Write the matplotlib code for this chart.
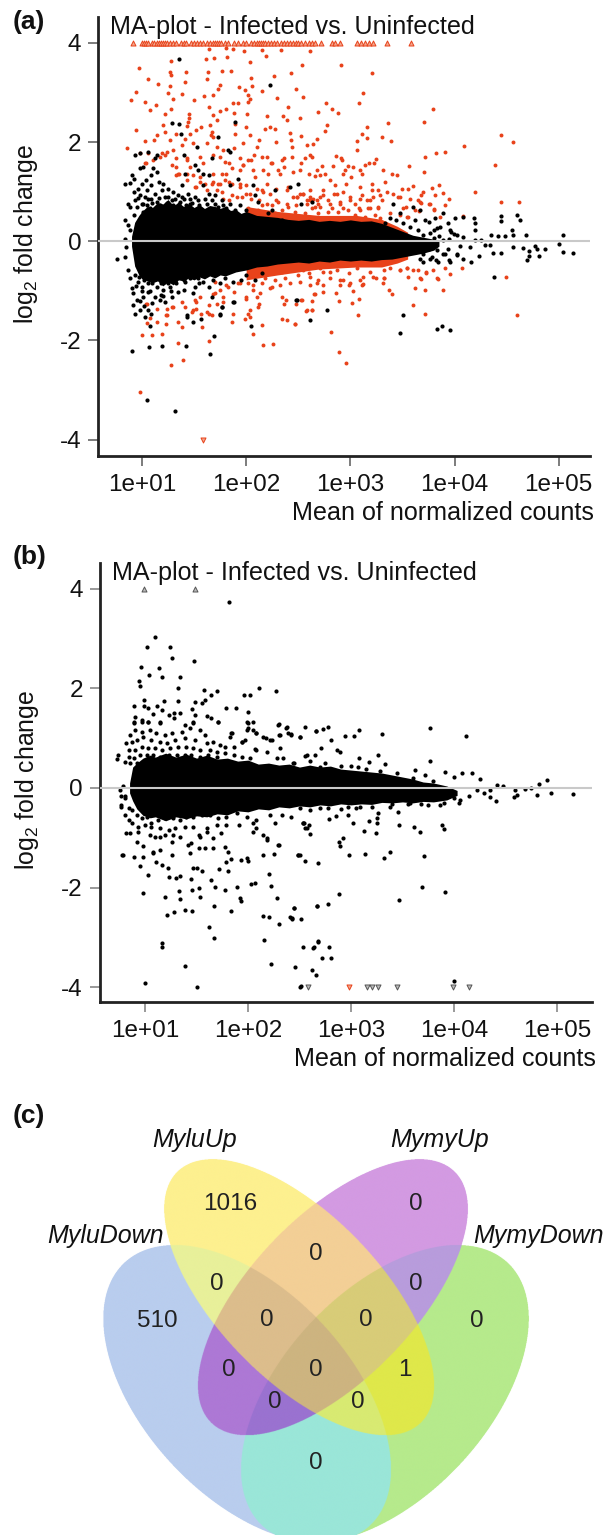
import numpy as np
import matplotlib
matplotlib.use("Agg")
import matplotlib.pyplot as plt

plt.rcParams['font.family'] = ['Liberation Sans', 'DejaVu Sans']
plt.rcParams['mathtext.default'] = 'regular'
plt.rcParams['axes.unicode_minus'] = False

W, H = 606, 1535

x_ticks = [1e1, 1e2, 1e3, 1e4, 1e5]
x_tick_labels = ['1e+01', '1e+02', '1e+03', '1e+04', '1e+05']
y_ticks = [-4, -2, 0, 2, 4]
title = 'MA-plot - Infected vs. Uninfected'

# panel a: log10(mean), log2FC
a_core_lx = [0.90, 0.93, 0.97, 1.0, 1.05, 1.1, 1.15, 1.2, 1.25, 1.3, 1.35, 1.4, 1.45, 1.5, 1.55, 1.6, 1.65, 1.7, 1.75,
             1.8, 1.85, 1.9, 1.95, 2.0, 2.1, 2.2, 2.3, 2.4, 2.5, 2.6, 2.7, 2.8, 2.9, 3.0, 3.1, 3.2, 3.3, 3.4, 3.5,
             3.6, 3.7, 3.8, 3.85]
a_core_hi = [0.10, 0.38, 0.52, 0.60, 0.70, 0.68, 0.78, 0.75, 0.84, 0.72, 0.78, 0.70, 0.76, 0.68, 0.74, 0.66, 0.72,
             0.70, 0.66, 0.70, 0.62, 0.64, 0.56, 0.60, 0.52, 0.50, 0.48, 0.44, 0.42, 0.44, 0.40, 0.42, 0.40, 0.43,
             0.40, 0.41, 0.36, 0.28, 0.20, 0.12, 0.08, 0.04, 0.0]
a_core_lo = [-0.10, -0.50, -0.68, -0.76, -0.80, -0.84, -0.80, -0.90, -0.82, -0.88, -0.78, -0.80, -0.74, -0.78, -0.72,
             -0.76, -0.70, -0.74, -0.68, -0.70, -0.66, -0.62, -0.60, -0.58, -0.52, -0.50, -0.46, -0.44, -0.42, -0.44,
             -0.40, -0.42, -0.38, -0.40, -0.38, -0.40, -0.37, -0.36, -0.32, -0.28, -0.24, -0.18, -0.10]

a_band_lx = [2.0, 2.3, 2.7, 3.06, 3.3, 3.45, 3.55]
a_band_hi = [0.70, 0.60, 0.52, 0.52, 0.44, 0.30, 0.18]
a_band_lo = [-0.78, -0.68, -0.56, -0.52, -0.52, -0.44, -0.36]

a_top_lx = [0.91, 1.0, 1.02, 1.04, 1.06, 1.1, 1.12, 1.14, 1.16, 1.18, 1.2, 1.22, 1.24, 1.27, 1.3, 1.33, 1.37, 1.4,
            1.42, 1.47, 1.5, 1.53, 1.56, 1.59, 1.62, 1.65, 1.68, 1.7, 1.72, 1.74, 1.76, 1.8, 1.83, 1.88, 1.92, 1.97,
            2.0, 2.05, 2.08, 2.1, 2.12, 2.14, 2.16, 2.18, 2.21, 2.24, 2.27, 2.3, 2.33, 2.36, 2.39, 2.42, 2.45, 2.48,
            2.5, 2.53, 2.56, 2.6, 2.63, 2.66, 2.72, 2.82, 2.85, 2.9, 3.06, 3.1, 3.14, 3.18, 3.22, 3.35, 3.58]
a_bottom_lx = [1.59]

a_red = [
    (1.64,3.88),(1.81,3.90),(1.87,3.87),(1.98,3.84),(2.15,3.85),(2.33,3.85),(2.61,3.84),(1.82,3.72),(1.69,3.70),
    (1.61,3.67),(2.19,3.73),(1.28,3.63),(2.04,3.61),(2.54,3.56),(0.97,3.49),(1.27,3.41),(1.28,3.35),(1.42,3.41),
    (1.63,3.42),(1.77,3.43),(1.85,3.43),(1.62,3.28),(2.05,3.30),(2.27,3.33),(2.43,3.39),(1.06,3.27),(1.41,3.21),
    (1.15,3.17),(1.27,3.13),(1.75,3.15),(1.73,3.06),(1.93,3.10),(2.06,3.13),(1.99,3.04),(2.15,3.03),(2.48,3.06),
    (0.94,3.00),(1.25,2.99),(1.38,2.96),(1.60,2.92),(1.68,2.94),(2.02,2.94),(2.04,2.87),(2.55,2.91),(0.89,2.84),
    (2.30,2.88),(1.03,2.81),(1.30,2.86),(1.50,2.84),(1.13,2.74),(1.87,2.79),(1.92,2.79),(2.02,2.80),(1.08,2.64),
    (1.28,2.67),(1.64,2.71),(1.81,2.67),(2.40,2.71),(1.22,2.57),(1.45,2.57),(1.75,2.62),(2.69,2.61),(1.68,2.54),
    (1.88,2.59),(2.01,2.57),(2.20,2.52),(2.35,2.53),(2.52,2.49),(1.45,2.49),(1.72,2.45),(1.44,2.41),(1.89,2.37),
    (2.39,2.45),(1.20,2.34),(1.65,2.34),(1.43,2.32),(2.00,2.30),(2.18,2.27),(2.23,2.30),(2.28,2.27),(0.94,2.24),
    (1.22,2.20),(1.52,2.25),(1.57,2.30),(1.67,2.20),(2.42,2.19),(1.03,2.02),(1.14,2.14),(1.33,2.17),(1.46,2.17),
    (1.66,2.14),(1.68,2.10),(1.89,2.17),(2.04,2.14),(2.53,2.12),(1.12,2.05),(1.27,2.04),(1.41,2.07),(2.12,2.04),
    (2.29,2.00),(2.43,2.04),(2.68,2.07),(0.86,1.88),(0.98,1.78),(1.06,1.78),(1.19,1.77),(1.24,1.80),(1.30,1.83),
    (1.38,1.94),(1.49,1.97),(1.62,1.97),(1.72,1.90),(1.78,1.83),(1.88,1.87),(1.97,1.97),(2.10,1.90),(2.08,1.73),
    (2.58,1.94),(2.64,1.96),(2.61,1.73),(2.44,1.90),(2.56,1.67),(1.11,1.63),(1.17,1.70),(1.33,1.67),(1.43,1.63),
    (1.56,1.70),(1.68,1.73),(1.75,1.70),(1.94,1.67),(2.02,1.63),(2.20,1.70),(2.36,1.67),(2.44,1.70),(1.04,1.57),
    (1.33,1.50),(1.46,1.50),(1.59,1.57),(1.84,1.57),(1.97,1.53),(2.24,1.57),(2.36,1.50),(2.52,1.43),(2.68,1.43),
    (1.33,1.33),(1.43,1.36),(1.56,1.30),(1.68,1.36),(1.81,1.36),(1.94,1.43),(2.07,1.43),(2.16,1.43),(2.32,1.36),
    (2.45,1.40),(2.60,1.36),(1.68,1.20),(1.75,1.16),(1.84,1.20),(1.94,1.10),(2.00,1.13),(2.10,1.06),(2.16,1.00),
    (2.23,0.96),(2.29,1.06),(2.39,1.03),(2.45,0.89),(2.52,0.96),(2.61,0.89),(2.68,0.83),(1.72,1.03),(1.62,1.03),
    (1.52,1.10),(1.43,1.23),(1.36,1.36),(1.56,1.20),(1.91,0.89),(2.04,0.96),(2.12,0.83),(2.20,0.76),(2.29,0.83),
    (2.39,0.76),(2.48,0.73),(2.58,0.76),(2.66,0.69),(1.78,0.86),(1.84,0.83),
    (1.03,1.57),(1.22,1.73),(1.285,1.53),(1.35,1.36),(1.43,1.67),(1.49,1.33),(1.67,1.16),(1.73,1.16),(1.80,1.23),
    (1.86,1.16),(1.94,1.16),(2.00,0.96),(2.05,0.86),(2.15,1.03),(2.245,0.725),(2.31,0.79),(2.40,0.69),(2.485,0.89),
    (2.565,0.56),(2.63,0.66),(2.21,1.36),(2.31,1.43),(2.40,1.10),(1.97,1.53),(1.86,1.47),(1.80,1.60),(2.05,1.63),
    (2.15,1.70),(2.245,1.57),(2.34,1.63),(2.53,1.57),(2.63,1.70),(1.51,1.10),(1.605,1.16),(1.765,0.99),(1.86,0.93),
    (1.96,0.89),(2.15,0.725),(2.34,0.625),(2.47,0.59),(2.58,0.83),(1.765,1.36),(2.085,1.30),(2.20,1.16),(2.02,0.66),
    (2.115,0.625),(2.28,0.56),(2.44,0.49),(2.53,0.49),
    (2.91,3.55),(3.21,3.39),(3.12,2.98),(2.77,2.78),(3.08,2.78),(2.82,2.66),(2.88,2.59),(3.79,2.67),(3.71,2.41),
    (3.36,2.39),(2.78,2.35),(2.76,2.22),(3.16,2.30),(3.11,2.16),(3.16,2.09),(3.06,2.02),(3.30,2.10),(3.39,2.02),
    (4.45,2.15),(4.56,2.00),(4.09,1.92),(3.06,1.83),(3.72,1.70),(3.82,1.78),(3.91,1.79),(2.86,1.72),(2.91,1.67),
    (2.92,1.63),(3.25,1.65),(3.23,1.57),(3.18,1.57),(3.14,1.53),(3.56,1.51),(4.39,1.53),(3.71,1.39),(3.31,1.43),
    (2.98,1.52),(3.03,1.50),(3.09,1.43),(3.11,1.36),(2.95,1.43),(2.93,1.36),(2.73,1.52),(2.83,1.52),(2.66,1.31),
    (2.76,1.36),(2.71,1.33),(3.40,1.36),(3.45,1.33),(3.33,1.20),(3.21,1.16),(3.85,1.13),(3.55,1.06),(3.50,1.06),
    (3.60,1.11),(3.78,1.07),(4.20,1.00),(3.70,1.00),(3.89,0.98),(3.81,0.93),(3.68,0.93),(3.41,0.96),(3.46,0.89),
    (3.95,0.86),(4.45,0.80),(4.62,0.80),(3.53,0.69),(3.65,0.83),(3.68,0.77),(3.75,0.76),(3.80,0.64),(3.91,0.73),
    (3.66,0.61),(3.86,0.49),(4.08,0.50),(2.80,1.23),(2.85,1.13),(3.01,1.30),(2.96,1.16),(3.09,1.10),(3.21,1.03),
    (3.27,1.03),(3.35,1.00),(2.74,1.03),(2.87,0.96),(3.00,0.89),(3.11,0.93),(3.22,0.89),(3.30,0.83),(2.79,0.83),
    (2.90,0.79),(3.04,0.76),(3.16,0.83),(3.27,0.66),(2.69,0.76),(2.82,0.66),(2.93,0.66),(3.09,0.63),(3.19,0.66),
    (3.38,0.56),(2.71,0.89),(2.61,1.03),(2.55,0.96),(2.49,0.89),(2.61,0.83),(3.48,0.52),(3.55,0.49),
    (2.55,0.96),(2.64,0.86),(2.74,0.93),(2.84,0.96),(2.93,1.00),(2.71,0.69),(2.80,0.76),(2.90,0.76),(3.00,0.83),
    (3.09,0.86),(3.19,0.83),(3.28,0.93),(3.27,0.69),(3.17,0.66),(3.08,0.66),(2.98,0.63),(2.88,0.59),(2.79,0.59),
    (2.69,0.56),(3.24,0.53),(3.14,0.49),(3.04,0.53),(2.95,0.46),(2.85,0.43),(3.28,0.46),(3.48,0.89),(3.57,0.86),
    (3.67,0.79),(3.76,0.76),(3.51,0.66),(3.62,0.63),(3.54,0.49),(3.80,0.63),
    (1.00,-1.90),(1.10,-1.90),(1.19,-1.88),(1.35,-2.06),(1.28,-2.50),(1.39,-2.39),(1.64,-2.02),(0.98,-3.04),
    (2.16,-2.10),(2.26,-2.08),(2.07,-1.88),(2.15,-1.68),(1.86,-1.63),(1.58,-1.73),(1.38,-1.73),(1.35,-1.63),
    (1.23,-1.66),(1.14,-1.63),(1.05,-1.65),(1.23,-1.49),(1.08,-1.54),(1.04,-1.26),(1.24,-1.36),(1.30,-1.32),
    (1.38,-1.22),(1.52,-1.22),(1.52,-1.36),(1.48,-1.43),(1.57,-1.46),(1.62,-1.43),(1.67,-1.49),(1.72,-1.26),
    (1.78,-1.22),(1.88,-1.02),(2.00,-1.16),(2.10,-1.12),(2.12,-1.26),(2.04,-1.39),(1.99,-1.56),(2.04,-1.53),
    (2.34,-1.56),(2.39,-1.59),(2.47,-1.66),(2.36,-1.26),(2.38,-1.18),(2.53,-1.18),(2.63,-1.20),(2.58,-1.39),
    (2.63,-1.39),(2.66,-1.06),(2.48,-1.26),(1.56,-1.12),(1.68,-1.06),(1.75,-0.99),(1.81,-0.89),(1.94,-0.85),
    (2.07,-0.89),(2.13,-1.05),(2.23,-0.95),(2.32,-0.89),(2.42,-0.85),(2.52,-0.82),(2.61,-0.89),(2.69,-0.79),
    (1.70,-0.82),(1.83,-0.92),(1.925,-0.85),(2.02,-0.85),(2.115,-0.69),(2.18,-0.75),(2.245,-0.65),(2.34,-0.62),
    (2.435,-0.585),(2.53,-0.55),(2.63,-0.48),(2.15,-0.85),(2.28,-0.79),(2.375,-0.75),(2.50,-0.69),(2.60,-0.65),
    (2.07,-0.99),(2.245,-0.92),(1.70,-1.05),(1.78,-1.12),(2.00,-1.12),(2.115,-1.32),(2.02,-1.46),(1.875,-1.46),
    (1.64,-1.29),(1.51,-1.19),(1.41,-1.32),(1.24,-1.49),(1.285,-1.32),(1.14,-1.36),(1.045,-1.26),(1.49,-1.39),
    (1.64,-1.46),(2.34,-1.12),
    (2.55,-0.58),(2.61,-0.72),(2.68,-0.85),(2.74,-0.62),(2.80,-0.75),(2.87,-0.58),(2.93,-0.78),(2.99,-0.65),
    (3.06,-0.55),(3.12,-0.72),(3.19,-0.62),(3.25,-0.75),(3.32,-0.58),(3.38,-0.55),(3.48,-0.58),(3.54,-0.55),
    (3.60,-0.58),(3.67,-0.75),(3.73,-0.62),(3.83,-0.75),(2.71,-0.55),(2.99,-0.89),(2.90,-0.89),(3.11,-0.89),
    (3.32,-0.75),(2.80,-0.62),
    (2.74,-1.02),(2.86,-1.04),(2.89,-1.20),(3.03,-1.00),(3.02,-1.24),(3.08,-1.16),(3.07,-1.49),(2.81,-1.84),
    (2.89,-2.23),(2.96,-2.45),(2.65,-1.07),(2.57,-1.40),(2.63,-1.38),(2.47,-1.67),(2.54,-1.18),(3.60,-1.29),
    (3.72,-1.46),(3.62,-0.95),(3.72,-0.99),(3.89,-0.99),(3.84,-0.77),(3.73,-0.64),(3.68,-0.77),(3.96,-0.67),
    (3.91,-0.55),(4.07,-0.55),(4.49,-0.72),(4.60,-1.48),(3.37,-0.98),(3.40,-1.07),(3.31,-0.85),(3.12,-0.87),
    (2.90,-0.79),(3.00,-0.85),(2.74,-0.89),(3.09,-0.79),(3.22,-0.72),(3.32,-0.75),(3.55,-0.72),(3.48,-0.58),
    (3.54,-0.55),(3.65,-0.58),(3.79,-0.58),
]

a_black = [
    (1.36,3.68),(2.23,3.15),(1.89,2.41),(1.29,2.39),(1.36,2.36),(1.37,2.16),(1.73,2.10),(1.83,1.83),(1.53,1.90),
    (0.84,1.16),(0.885,1.18),(0.92,1.26),(0.90,1.33),(0.98,1.47),(1.01,1.50),(0.93,1.73),(0.98,1.78),(1.06,1.80),
    (1.11,1.47),(1.14,1.40),(1.09,1.33),(1.04,1.23),(1.00,1.16),(0.965,1.06),(0.92,1.00),(0.87,0.76),(0.885,0.69),
    (0.93,0.83),(0.98,0.93),(1.045,1.03),(1.09,1.13),(1.16,1.20),(1.205,1.16),(1.25,1.06),(1.30,0.99),(1.35,0.93),
    (1.40,0.86),(1.445,0.96),(1.51,0.89),(1.59,1.13),(1.64,0.96),(1.70,0.93),(1.765,0.83),(1.845,0.76),(1.94,0.73),
    (2.085,0.93),(2.115,0.79),(2.00,0.63),(2.245,0.63),(0.95,0.69),(1.01,0.76),(1.06,0.86),(1.125,0.96),(1.19,1.03),
    (1.22,0.89),(1.285,0.83),(1.14,0.79),(1.08,0.66),(1.01,0.59),(1.365,0.79),(1.46,0.76),(1.54,0.83),(1.605,0.86),
    (1.67,0.83),(1.73,0.69),(1.81,0.66),(1.89,0.63),(1.38,1.13),(1.41,1.36),(1.54,1.43),(1.59,1.36),(1.64,1.33),
    (1.40,1.73),(1.51,1.53),(1.67,1.67),(1.845,1.80),(1.925,1.26),(2.07,1.13),(1.845,1.13),(1.125,1.67),(1.14,1.73),
    (2.28,1.03),(2.42,1.10),(2.50,1.16),(2.53,0.76),(2.63,0.79),(2.34,0.42),(2.21,0.56),(0.84,0.42),(0.87,0.32),
    (0.92,0.53),(0.885,0.22),(0.84,0.05),(0.85,-0.11),(0.84,-0.32),(0.757,-0.35),
    (1.00,0.75),(1.05,0.72),(1.10,0.78),(1.17,0.74),(1.24,0.77),(1.30,0.72),(1.36,0.75),(1.42,0.72),(1.48,0.78),
    (0.96,0.88),(1.03,0.90),(1.09,0.86),(1.16,0.88),(1.25,0.90),(1.32,0.86),(1.38,0.90),(1.46,0.86),(1.55,0.72),
    (1.62,0.75),(1.70,0.76),(1.78,0.72),
    (0.97,-0.72),(1.02,-0.78),(1.10,-0.85),(1.18,-0.84),(1.25,-0.85),(1.32,-0.80),(1.40,-0.78),(1.00,-1.00),
    (1.08,-1.00),(1.18,-1.08),(1.28,-1.00),(0.94,-0.90),(0.98,-1.20),(1.02,-1.30),(1.10,-1.25),(1.20,-1.10),
    (1.55,-0.85),(1.68,-0.78),(1.75,-0.85),(1.95,-0.78),(2.00,-0.68),
    (0.87,-0.58),(0.885,-0.75),(0.90,-0.95),(0.917,-1.05),(0.95,-1.19),(0.917,-1.29),(0.98,-1.39),(0.93,-1.46),
    (1.01,-1.12),(1.06,-1.02),(1.125,-1.12),(1.17,-1.19),(1.22,-1.22),(1.285,-1.12),(1.35,-1.02),(1.40,-0.99),
    (1.06,-0.85),(1.14,-0.92),(1.205,-0.99),(1.27,-0.92),(1.33,-0.85),(1.41,-0.82),(0.997,-0.92),(0.965,-0.82),
    (0.93,-0.69),(1.46,-0.75),(1.54,-0.75),(1.51,-0.92),(1.59,-0.82),(1.64,-0.92),(1.49,-1.05),(1.67,-1.12),
    (1.765,-1.32),(1.875,-1.22),(1.875,-0.82),(1.80,-0.75),(2.085,-0.79),(2.15,-0.65),(2.485,-1.19),(1.43,-1.49),
    (1.57,-1.56),(1.75,-1.46),(1.06,-1.39),
    (3.41,0.76),(3.48,0.56),(3.38,0.46),(3.33,0.36),(3.44,0.43),(3.51,0.36),(3.57,0.29),(3.62,0.43),(3.65,0.22),
    (3.72,0.43),(3.75,0.39),(3.81,0.46),(3.83,0.26),(3.76,0.16),(3.70,0.12),(3.89,0.56),(3.94,0.36),(3.97,0.19),
    (4.02,0.12),(3.80,0.06),(3.89,0.02),(3.64,-0.15),(3.70,-0.25),(3.75,-0.15),(3.67,-0.35),(3.83,-0.18),(3.89,-0.25),
    (3.94,-0.15),(3.84,-0.41),(3.96,-0.41),(4.02,-0.28),(3.78,-0.31),(3.60,0.69),(3.67,0.63),
    (4.00,0.46),(4.08,0.49),(4.19,0.46),(4.20,0.37),(4.45,0.50),(4.45,0.41),(4.60,0.52),(4.63,0.42),(4.55,0.22),
    (4.56,0.13),(4.69,0.13),(5.04,0.12),(4.42,0.11),(4.48,0.11),(4.35,0.12),(4.20,0.22),(4.08,0.09),(3.99,0.15),
    (3.96,0.22),(3.86,0.29),(3.80,0.22),(4.25,0.02),(4.56,-0.11),(4.66,-0.13),(4.77,-0.09),(4.79,-0.16),(4.87,-0.16),
    (5.00,-0.06),(5.04,-0.22),(5.14,-0.24),(4.71,-0.19),(4.71,-0.30),(4.70,-0.38),(4.81,-0.30),(4.37,-0.23),
    (4.45,-0.23),(4.34,-0.07),(4.29,-0.08),(4.23,-0.30),(4.16,-0.42),(4.08,-0.35),(4.02,-0.25),(3.95,-0.38),
    (3.91,-0.25),(3.82,-0.38),(3.76,-0.35),(3.70,-0.42),(4.20,0.02),(4.15,-0.11),(3.95,0.05),(4.05,-0.10),(3.85,0.10),
    (0.90,-2.21),(1.07,-2.13),(1.19,-2.11),(1.42,-2.11),(1.69,-1.92),(1.65,-2.28),(1.05,-3.21),(1.32,-3.42),
    (2.05,-1.71),(2.48,-1.18),(2.61,-1.59),(1.08,-1.71),(1.03,-1.53),(1.09,-1.46),(1.43,-1.53),(1.49,-1.63),
    (1.77,-1.32),(1.75,-1.49),(1.88,-1.22),(2.78,-1.39),(3.51,-1.48),(3.48,-1.85),
    (3.83,-1.77),(3.88,-1.71),(3.96,-1.78),(4.38,-0.72),
]

# panel b
b_core_lx = [0.85, 0.88, 0.92, 0.98, 1.05, 1.1, 1.2, 1.3, 1.4, 1.5, 1.6, 1.7, 1.8, 1.9, 2.0, 2.1, 2.2, 2.3, 2.4, 2.5,
             2.6, 2.7, 2.8, 2.9, 3.0, 3.1, 3.2, 3.3, 3.4, 3.5, 3.6, 3.7, 3.8, 3.93, 4.03]
b_core_hi = [0.10, 0.42, 0.50, 0.60, 0.66, 0.62, 0.70, 0.62, 0.68, 0.60, 0.66, 0.58, 0.60, 0.54, 0.56, 0.48, 0.50,
             0.46, 0.48, 0.42, 0.46, 0.42, 0.44, 0.38, 0.36, 0.34, 0.32, 0.30, 0.26, 0.22, 0.18, 0.12, 0.10, 0.04, -0.05]
b_core_lo = [-0.10, -0.26, -0.42, -0.55, -0.60, -0.58, -0.66, -0.58, -0.62, -0.56, -0.58, -0.52, -0.54, -0.46, -0.48,
             -0.42, -0.44, -0.38, -0.40, -0.36, -0.38, -0.34, -0.36, -0.32, -0.34, -0.32, -0.33, -0.29, -0.30, -0.28,
             -0.30, -0.27, -0.28, -0.24, -0.15]

b_top_lx = [0.99, 1.49]
b_bottom_lx = [2.58, 3.16, 3.20, 3.26, 3.45, 3.99, 4.15]
b_bottom_red_lx = [2.98]

b_black = [
    (1.82,3.73),(1.10,3.03),(1.02,2.83),(1.24,2.83),(1.26,2.61),(1.48,2.56),(0.96,2.44),(1.14,2.41),(1.04,2.27),
    (1.16,2.22),(1.34,2.22),(0.94,2.14),(0.95,2.04),(1.32,2.00),(1.57,1.97),(1.70,1.95),(1.64,1.86),(2.11,2.00),
    (2.27,1.94),(1.96,1.87),(2.02,1.86),(0.99,1.77),(1.18,1.75),(1.32,1.75),(1.49,1.72),(1.58,1.77),(1.55,1.70),
    (0.89,1.65),(0.99,1.65),(1.03,1.60),(1.12,1.65),(1.16,1.57),(1.79,1.60),(1.88,1.61),(1.46,1.58),(2.00,1.53),
    (1.08,1.49),(1.23,1.47),(1.28,1.51),(1.34,1.51),(1.49,1.47),(1.60,1.45),(1.64,1.40),(1.71,1.33),(0.90,1.43),
    (0.89,1.33),(0.97,1.37),(1.03,1.33),(1.15,1.33),(1.28,1.40),(1.47,1.33),(2.05,1.33),(2.00,1.30),(2.30,1.29),
    (2.37,1.21),(2.55,1.23),(2.66,1.15),(2.42,1.09),(2.50,1.03),(1.83,1.10),(1.99,1.17),(2.08,1.10),(2.17,1.01),
    (2.23,0.96),(2.30,1.07),(1.94,0.93),(2.07,0.78),(2.18,0.73),(2.31,0.80),(2.55,0.65),(2.65,0.66),
    (0.89,1.30),(0.97,1.33),(1.03,1.33),(1.145,1.30),(1.39,1.27),(1.47,1.30),(1.71,1.33),(0.90,1.17),(0.85,1.07),
    (0.97,1.13),(1.05,1.17),(1.11,1.10),(1.19,1.07),(1.26,1.10),(1.36,1.13),(1.44,1.20),(1.53,1.17),(1.58,1.07),
    (0.82,0.90),(0.87,0.93),(0.92,0.97),(0.98,1.03),(1.06,0.97),(1.145,0.93),(1.21,0.90),(1.29,0.97),(1.39,1.00),
    (1.485,0.97),(1.60,0.90),(1.66,0.93),(1.73,0.86),(0.84,0.76),(0.90,0.76),(0.97,0.83),(1.03,0.80),(1.10,0.80),
    (1.16,0.76),(1.24,0.80),(1.32,0.83),(1.40,0.83),(1.47,0.80),(1.53,0.76),(1.63,0.76),(1.70,0.73),(1.78,0.83),
    (1.86,0.83),(0.84,0.63),(0.89,0.60),(0.95,0.66),(1.02,0.66),(1.08,0.66),(1.145,0.63),(1.23,0.66),(1.31,0.66),
    (1.39,0.66),(1.45,0.66),(1.53,0.63),(1.61,0.66),(1.70,0.63),(1.78,0.70),(1.86,0.66),(1.94,0.63),(2.02,0.60),
    (2.08,0.76),(0.85,0.50),(0.92,0.50),(1.94,0.93),(1.97,0.97),(1.84,1.10),(1.825,1.03),(2.00,1.20),(1.99,1.33),
    (2.05,1.17),(2.08,1.10),(2.15,1.03),(2.21,0.97),(2.31,1.07),(2.39,1.10),(2.42,1.07),(2.50,1.03),(2.29,1.27),
    (2.375,1.23),(2.28,0.60),(2.34,0.60),(2.44,0.50),(2.57,0.66),(0.74,0.66),(0.73,0.58),(0.805,0.53),(0.79,0.03),
    (0.76,-0.04),(0.81,-0.17),(0.77,-0.34),
    (0.77,-0.17),(0.805,-0.21),(0.77,-0.38),(0.84,-0.41),(0.805,-0.54),(0.84,-0.64),(0.87,-0.44),(0.92,-0.54),
    (0.97,-0.61),(1.02,-0.58),(1.06,-0.71),(1.13,-0.64),(1.19,-0.61),(1.275,-0.61),(1.34,-0.64),(1.40,-0.58),
    (1.47,-0.58),(1.55,-0.54),(1.63,-0.54),(1.71,-0.61),(1.79,-0.58),(1.89,-0.51),(1.99,-0.58),(2.08,-0.64),
    (2.21,-0.54),(2.33,-0.54),(2.42,-0.58),(0.87,-0.71),(0.935,-0.78),(1.00,-0.74),(1.06,-0.78),(1.145,-0.81),
    (1.23,-0.84),(1.29,-0.81),(1.39,-0.78),(1.47,-0.78),(1.60,-0.81),(1.70,-0.74),(1.79,-0.74),(1.91,-0.74),
    (2.05,-0.71),(2.08,-0.81),(2.26,-0.71),(2.54,-0.71),(2.57,-0.81),(0.82,-0.91),(0.85,-0.91),(0.935,-0.88),
    (0.92,-1.08),(1.05,-0.94),(1.10,-0.98),(1.145,-0.98),(1.19,-0.94),(1.275,-0.94),(1.34,-0.98),(1.52,-0.94),
    (1.53,-0.98),(1.60,-0.88),(1.74,-0.91),(1.66,-1.01),(2.05,-0.88),(2.15,-0.94),(2.18,-1.05),(2.29,-1.15),
    (1.45,-1.11),(0.98,-1.17),(1.08,-1.28),(1.145,-1.25),(1.26,-1.08),(1.42,-1.15),(1.52,-1.21),(1.58,-1.21),
    (1.66,-1.21),(1.78,-1.18),(1.81,-1.28),(0.79,-1.35),(0.89,-1.38),(0.98,-1.38),(1.08,-1.31),(1.26,-1.35),
    (1.44,-1.31),(2.15,-1.35),(2.49,-1.35),(1.99,-1.41),
    (2.45,0.50),(2.60,0.55),(2.75,0.50),(2.90,0.45),(3.00,0.45),(3.15,0.38),(3.28,0.35),(3.45,0.30),(3.60,0.20),
    (3.80,0.15),(2.70,0.42),(2.50,-0.40),(2.70,-0.40),(2.90,-0.42),(3.05,-0.40),(3.20,-0.38),(3.40,-0.33),
    (3.55,-0.33),(3.75,-0.35),(3.90,-0.30),(4.05,-0.30),(2.60,-0.45),
    (0.78,-1.35),(0.95,-1.56),(1.03,-1.75),(0.98,-2.12),(1.00,-3.92),(1.16,-3.12),
    (1.16,-3.20),(1.39,-3.57),(1.50,-4.00),(1.21,-2.56),(1.28,-2.50),(1.39,-2.45),(1.46,-2.47),(1.19,-2.20),
    (1.34,-2.23),(1.33,-2.06),(1.46,-2.05),(1.52,-2.00),(1.53,-2.20),(1.23,-1.78),(1.30,-1.80),(1.34,-1.77),
    (1.45,-1.82),(1.22,-1.60),(1.16,-1.55),(1.11,-1.48),(1.47,-1.61),(1.50,-1.60),(1.55,-1.67),(1.64,-1.85),
    (1.68,-1.98),(1.78,-2.05),(1.89,-1.98),(1.67,-2.37),(1.83,-2.47),(1.92,-2.22),(1.93,-2.27),(1.62,-2.79),
    (1.67,-3.02),(1.72,-1.63),(1.81,-1.67),(1.79,-1.49),(1.83,-1.43),(1.93,-1.45),(2.00,-1.47),(2.03,-1.92),
    (2.07,-1.90),(2.20,-1.72),(2.22,-1.97),(2.28,-2.22),(2.15,-2.58),(2.20,-2.59),(2.30,-2.73),(2.16,-3.06),
    (2.22,-3.54),(2.41,-2.60),(2.43,-2.63),(2.51,-2.63),(2.45,-2.41),(2.67,-2.38),(2.53,-3.19),(2.64,-3.20),
    (2.68,-3.09),(2.46,-3.60),(2.62,-3.66),(2.66,-3.75),(2.50,-3.99),(2.25,-1.33),(2.30,-1.15),(2.50,-1.35),
    (2.55,-1.47),(2.68,-1.51),(2.18,-1.01),(2.53,-0.70),(2.59,-0.74),(2.60,-0.92),(2.55,-0.81),
    (2.66,1.15),(2.73,1.18),(2.78,1.23),(3.08,1.17),(3.03,1.05),(2.94,1.05),(3.30,1.09),(3.77,1.20),
    (4.12,1.05),(2.71,0.80),(2.81,0.96),(2.86,0.76),(2.89,0.73),(3.26,0.66),(3.08,0.60),
    (3.07,0.43),(3.17,0.52),(3.33,0.48),(3.77,0.55),(3.62,0.36),(3.72,0.26),(3.91,0.33),(4.08,0.31),(4.17,0.31),
    (4.25,0.19),(4.00,0.23),(4.42,0.06),(4.48,0.03),(4.83,0.08),(4.90,0.16),(4.69,-0.03),(4.75,-0.01),(4.59,-0.04),
    (4.61,-0.14),(4.58,-0.19),(4.81,-0.14),(4.94,-0.11),(5.16,-0.13),(4.35,-0.04),(4.41,-0.27),(4.35,-0.19),
    (4.29,-0.11),(4.15,-0.17),(4.06,-0.24),(4.00,-0.21),(4.22,-0.04),(3.93,-0.04),(3.86,-0.34),(3.68,-0.32),
    (3.57,-0.31),(3.46,-0.49),(3.38,-0.38),(3.26,-0.51),(3.17,-0.66),(3.25,-0.61),(3.25,-0.71),(3.09,-0.38),
    (2.97,-0.38),(2.97,-0.54),(3.02,-0.70),(2.78,-0.41),(2.79,-0.63),(2.85,-0.56),(2.53,-0.70),
    (3.13,-0.86),(3.24,-0.90),(3.47,-0.74),(3.61,-0.78),(3.67,-0.88),(3.88,-0.74),
    (3.90,-0.82),(2.88,-1.08),(2.92,-1.01),(2.89,-1.17),(2.49,-1.35),(2.98,-1.35),
    (3.14,-1.33),(3.32,-1.41),(3.38,-1.28),(3.71,-1.37),(3.69,-1.98),(3.91,-2.10),(3.47,-2.26),(2.88,-2.14),
    (2.78,-2.34),(2.67,-2.37),(2.45,-2.41),(2.43,-2.61),(2.63,-3.21),(2.68,-3.08),
    (2.79,-3.20),(2.72,-3.42),(2.81,-3.42),(2.51,-3.98),(4.00,-3.88),
]

# panel c
venn_sets = ['MyluDown', 'MyluUp', 'MymyUp', 'MymyDown']
venn_counts = [1016, 0, 0, 0, 0, 510, 0, 0, 0, 0, 0, 1, 0, 0, 0]

RED = '#e8421a'


def rect(l, t, r, b):
    return [l / W, 1 - b / H, (r - l) / W, (b - t) / H]


def ma_panel(box, xlim, ylim, tick_color):
    ax = fig.add_axes(rect(*box))
    ax.set_xscale('log')
    ax.set_xlim(10 ** xlim[0], 10 ** xlim[1])
    ax.set_ylim(*ylim)
    ax.set_xticks(x_ticks)
    ax.set_xticklabels(x_tick_labels)
    ax.xaxis.set_minor_locator(matplotlib.ticker.NullLocator())
    ax.set_yticks(y_ticks)
    ax.tick_params(labelsize=17.5, length=7, width=1.2, color=tick_color, labelcolor='#111', pad=5)
    ax.tick_params(axis='x', pad=6)
    for s in ['top', 'right']:
        ax.spines[s].set_visible(False)
    for s in ['left', 'bottom']:
        ax.spines[s].set_linewidth(2)
        ax.spines[s].set_color('#222')
    ax.axhline(0, color='#c9c9c9', lw=1.5, zorder=6)
    ax.text(12 / (box[2] - box[0]), 0.977, title, transform=ax.transAxes,
            fontsize=18.1, va='center', ha='left', color='#111')
    ax.set_xlabel('Mean of normalized counts', fontsize=18.1, color='#111', loc='right')
    ax.xaxis.set_label_coords(1.008, -0.103)
    ax.set_ylabel(r'log$_2$ fold change', fontsize=17.9, color='#111')
    ax.yaxis.set_label_coords(-0.118, 0.507)
    return ax


def dots(ax, pts, color, z, size):
    lx, y = np.array(pts).T
    ax.scatter(10 ** lx, y, s=size, color=color, linewidths=0, zorder=z)


fig = plt.figure(figsize=(W / 100, H / 100), dpi=100)

# (a)
ax = ma_panel((98, 17, 590, 456), (0.578, 5.30), (-4.33, 4.52), '#666')
ax.fill_between(10 ** np.array(a_band_lx), a_band_lo, a_band_hi, color=RED, lw=0, zorder=1)
dots(ax, a_red, RED, 2, 8)
ax.fill_between(10 ** np.array(a_core_lx), a_core_lo, a_core_hi, color='black', lw=0, zorder=3)
dots(ax, a_black, 'black', 4, 9)
ax.scatter(10 ** np.array(a_top_lx), [4] * len(a_top_lx), marker='^', s=13, facecolor='#f3a58c',
           edgecolor=RED, linewidths=0.7, zorder=5)
ax.scatter(10 ** np.array(a_bottom_lx), [-4] * len(a_bottom_lx), marker='v', s=13, facecolor='#f3a58c',
           edgecolor=RED, linewidths=0.7, zorder=5)

# (b)
ax = ma_panel((99.5, 563, 592, 1002), (0.558, 5.34), (-4.30, 4.52), '#888')
ax.fill_between(10 ** np.array(b_core_lx), b_core_lo, b_core_hi, color='black', lw=0, zorder=3)
dots(ax, b_black, 'black', 4, 9)
ax.scatter(10 ** np.array(b_top_lx), [4] * len(b_top_lx), marker='^', s=13, facecolor='#bbbbbb',
           edgecolor='#555', linewidths=0.7, zorder=5)
ax.scatter(10 ** np.array(b_bottom_lx), [-4] * len(b_bottom_lx), marker='v', s=13, facecolor='#bbbbbb',
           edgecolor='#555', linewidths=0.7, zorder=5)
ax.scatter(10 ** np.array(b_bottom_red_lx), [-4], marker='v', s=13, facecolor='#f3a58c',
           edgecolor=RED, linewidths=0.7, zorder=5)

# (c) every region of the venn gets its own colour, so colour the regions from a mask
vx = fig.add_axes(rect(0, 1090, 606, 1535))
vx.set_xlim(0, 606)
vx.set_ylim(1535, 1090)
vx.axis('off')

ell = {
    'MyluDown': (247, 1394, 180, 103, 47),
    'MyluUp': (299, 1297, 175, 82, 46),
    'MymyUp': (333, 1297, 175, 82, 134),
    'MymyDown': (385, 1394, 180, 103, 133),
}
region_colors = {
    1: '#b9cdee', 2: '#fdf08f', 4: '#d39ae2', 8: '#b6ea8c',
    3: '#e8f09a', 6: '#f3cf96', 12: '#b89cdc', 5: '#ad78d5', 10: '#dfe84a', 9: '#9ae6d8',
    7: '#dcbd8c', 14: '#d8cc78', 13: '#9a72d0', 11: '#d8ea72', 15: '#cdb480',
}
gx, gy = np.meshgrid(np.arange(0, 606, 0.33), np.arange(1090, 1535, 0.33))
code = np.zeros(gx.shape, dtype=int)
for i, name in enumerate(venn_sets):
    cx, cy, a, b, ang = ell[name]
    t = np.deg2rad(ang)
    u = (gx - cx) * np.cos(t) + (gy - cy) * np.sin(t)
    v = -(gx - cx) * np.sin(t) + (gy - cy) * np.cos(t)
    code += ((u / a) ** 2 + (v / b) ** 2 <= 1).astype(int) << i
lut = np.ones((16, 4))
lut[0] = (1, 1, 1, 0)
for k, c in region_colors.items():
    lut[k] = matplotlib.colors.to_rgba(c)
vx.imshow(lut[code], extent=(0, 606, 1535, 1090), aspect='auto', interpolation='hanning')

count_pos = [(230, 1204), (415.5, 1204), (316, 1254), (216.5, 1284), (415.5, 1284), (157, 1321), (267, 1320),
             (366, 1320), (477, 1321), (229, 1370), (316, 1370), (405, 1370), (275, 1402), (358, 1402), (316, 1463)]
for n, (px, py) in zip(venn_counts, count_pos):
    vx.text(px, py, str(n), fontsize=17.5, ha='center', va='center', color='#222')
name_pos = {'MyluDown': (105, 1236), 'MyluUp': (195, 1140), 'MymyUp': (440, 1140), 'MymyDown': (538, 1236)}
for name, (px, py) in name_pos.items():
    vx.text(px, py, name, fontsize=18, style='italic', ha='center', va='center', color='#111')

for lab, py in [('(a)', 22), ('(b)', 557), ('(c)', 1116)]:
    fig.text(13 / W, 1 - py / H, lab, fontsize=19, fontweight='bold', ha='left', va='center', color='#111')

fig.savefig('out.png', dpi=100)
